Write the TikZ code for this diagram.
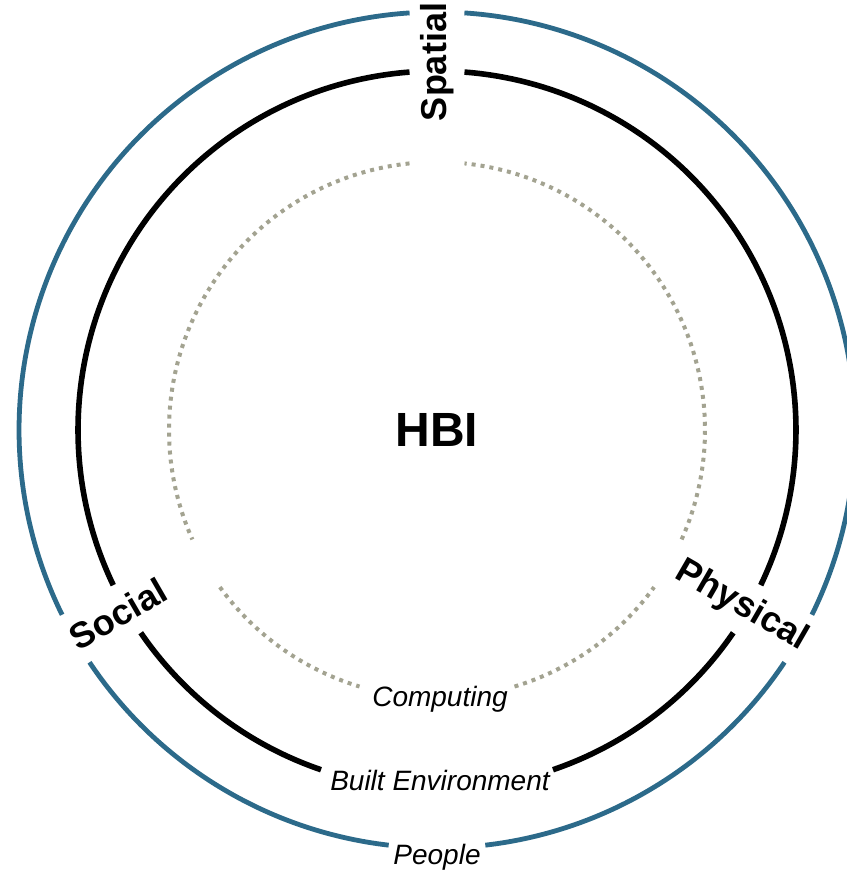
\documentclass[tikz,border=0pt]{standalone}
\usepackage{fontspec}
\setmainfont{Liberation Sans}
\definecolor{steelblue}{HTML}{2C6A8A}
\definecolor{sage}{HTML}{A3A391}
\usepackage{tikz}

\begin{document}
\begin{tikzpicture}[x=0.5pt,y=0.5pt,
  peoplering/.style={draw=steelblue,line width=2.4pt},
  builtring/.style={draw=black,line width=2.8pt},
  computingring/.style={draw=sage,line width=2pt,dash pattern=on 2pt off 2.5pt},
  facet/.style={font=\fontsize{18}{20}\selectfont\bfseries,inner sep=0pt},
  layer/.style={font=\fontsize{14}{16}\selectfont\itshape,inner sep=0pt}]
\useasboundingbox (-437,-441) rectangle (409,430);
\coordinate (c) at (0,0);
% rings, broken at the three facets and at their own label
\foreach \r/\g/\h/\sty in {209/3.76/6.64/peoplering, 179.5/4.39/18.85/builtring, 134/5.89/16.81/computingring}
  \foreach \a/\b in {90+\g/210-\g, 210+\g/270-\h, 270+\h/330-\g, 330+\g/450-\g}
    \draw[\sty] (c) ++(\a:\r pt) arc[start angle=\a, end angle=\b, radius=\r pt];
\node[font=\fontsize{24}{26}\selectfont\bfseries] (hbi) at (c) {HBI};
\node[facet,rotate=90] (spatial) at (90:184pt) {Spatial};
\node[facet,rotate=30] (social) at (210:184pt) {Social};
\node[facet,rotate=-30] (physical) at (330:176pt) {Physical};
\node[layer] (computing) at (3,-269) {Computing};
\node[layer] (built) at (3,-350) {Built Environment};
\node[layer] (people) at (0,-427) {People};
\end{tikzpicture}
\end{document}
